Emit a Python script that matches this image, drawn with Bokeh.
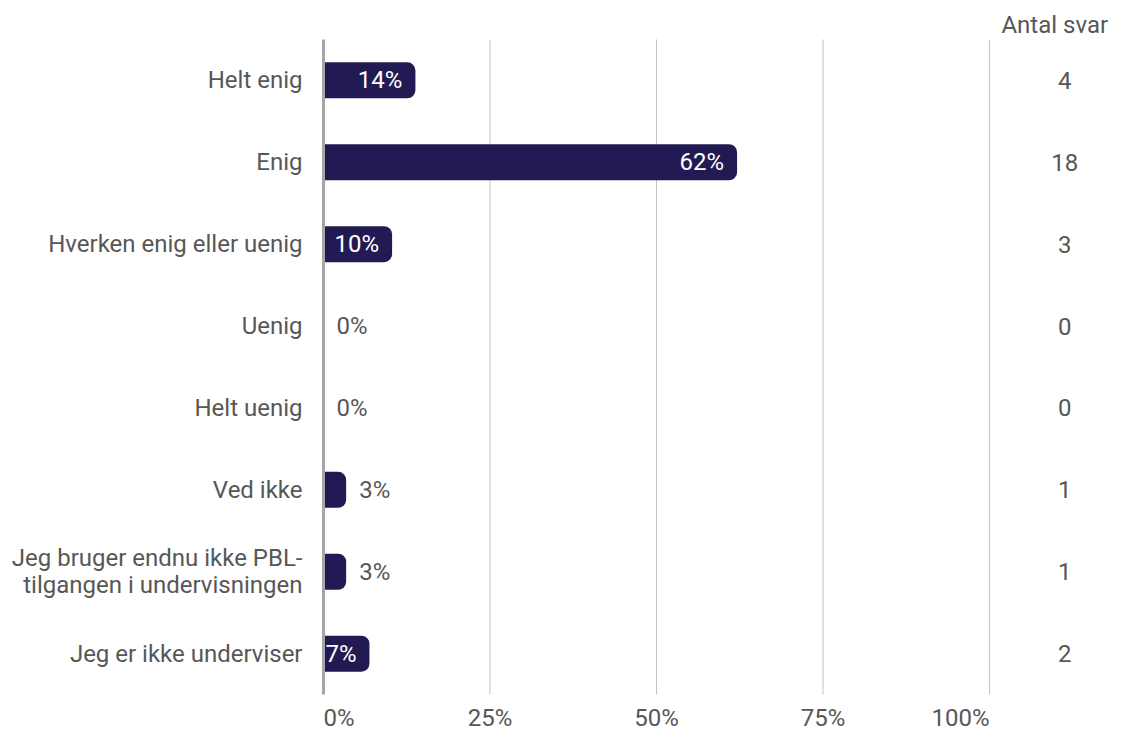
from bokeh.plotting import figure
from bokeh.models import FactorRange, Range1d, ColumnDataSource
from bokeh.core.properties import value
from bokeh.embed import file_html
from bokeh.resources import INLINE

categories = ["Helt enig", "Enig", "Hverken enig eller uenig", "Uenig", "Helt uenig",
              "Ved ikke", "Jeg bruger endnu ikke PBL-tilgangen i undervisningen",
              "Jeg er ikke underviser"]
display_labels = ["Helt enig", "Enig", "Hverken enig eller uenig", "Uenig", "Helt uenig",
                  "Ved ikke", "Jeg bruger endnu ikke PBL-\ntilgangen i undervisningen",
                  "Jeg er ikke underviser"]
percent_values = [13.8, 62.1, 10.3, 0.0, 0.0, 3.4, 3.4, 6.9]
percent_labels = ["14%", "62%", "10%", "0%", "0%", "3%", "3%", "7%"]
counts = ["4", "18", "3", "0", "0", "1", "1", "2"]
x_ticks = [0, 25, 50, 75, 100]
x_tick_labels = ["0%", "25%", "50%", "75%", "100%"]
count_header = "Antal svar"

FONT = "Roboto"
TXT = "#575757"
BAR = "#221B53"
FS = "24px"
N = len(categories)
COUNT_X = 111.3
HEADER_X = 109.8

p = figure(width=1110, height=733, output_backend="svg", toolbar_location=None,
           y_range=FactorRange(factors=list(reversed(categories)),
                               range_padding=0.475, range_padding_units="absolute"),
           x_range=Range1d(-48.50, 118.17),
           min_border_left=0, min_border_right=0, min_border_top=0, min_border_bottom=0)
p.outline_line_color = None
p.background_fill_color = "white"
p.border_fill_color = "white"
p.grid.visible = False
p.xaxis.visible = False
p.yaxis.visible = False

# vertical gridlines
p.segment(x0=x_ticks[1:], x1=x_ticks[1:], y0=[0] * 4, y1=[N] * 4,
          line_color="#C2C2C2", line_width=1)

# bars
p.hbar(y=categories, left=0, right=percent_values, height=0.44, fill_color=BAR,
       line_color=None, border_radius=(0, 8, 8, 0))

# baseline axis line at 0%
p.segment(x0=[x_ticks[0]], x1=[x_ticks[0]], y0=[0], y1=[N],
          line_color="#A6A6A6", line_width=3)

# category labels
p.text(x=[0] * N, y=categories, text=display_labels, x_offset=-21, text_align="right",
       text_baseline="middle", text_color=TXT, text_font=value(FONT),
       text_font_size=FS, text_line_height=0.95)

inside = ColumnDataSource(dict(
    y=[c for c, v in zip(categories, percent_values) if v >= 5],
    x=[v for v in percent_values if v >= 5],
    t=[l for l, v in zip(percent_labels, percent_values) if v >= 5]))
outside = ColumnDataSource(dict(
    y=[c for c, v in zip(categories, percent_values) if v < 5],
    x=[v for v in percent_values if v < 5],
    t=[l for l, v in zip(percent_labels, percent_values) if v < 5]))
p.text(x="x", y="y", text="t", source=inside, x_offset=-13, text_align="right",
       text_baseline="middle", text_color="white", text_font=value(FONT), text_font_size=FS)
p.text(x="x", y="y", text="t", source=outside, x_offset=13, text_align="left",
       text_baseline="middle", text_color=TXT, text_font=value(FONT), text_font_size=FS)

# counts column + header
p.text(x=[COUNT_X] * N, y=categories, text=counts, text_align="center",
       text_baseline="middle", text_color=TXT, text_font=value(FONT), text_font_size=FS)
p.text(x=[HEADER_X], y=[N + 0.17], text=[count_header], text_align="center",
       text_baseline="middle", text_color=TXT, text_font=value(FONT), text_font_size=FS)

# x tick labels
aligns = ["left", "center", "center", "center", "right"]
p.text(x=x_ticks, y=[-0.28] * len(x_ticks), text=x_tick_labels, text_align=aligns,
       text_baseline="middle", text_color=TXT, text_font=value(FONT), text_font_size=FS)

open("out.html", "w").write(file_html(p, INLINE))
